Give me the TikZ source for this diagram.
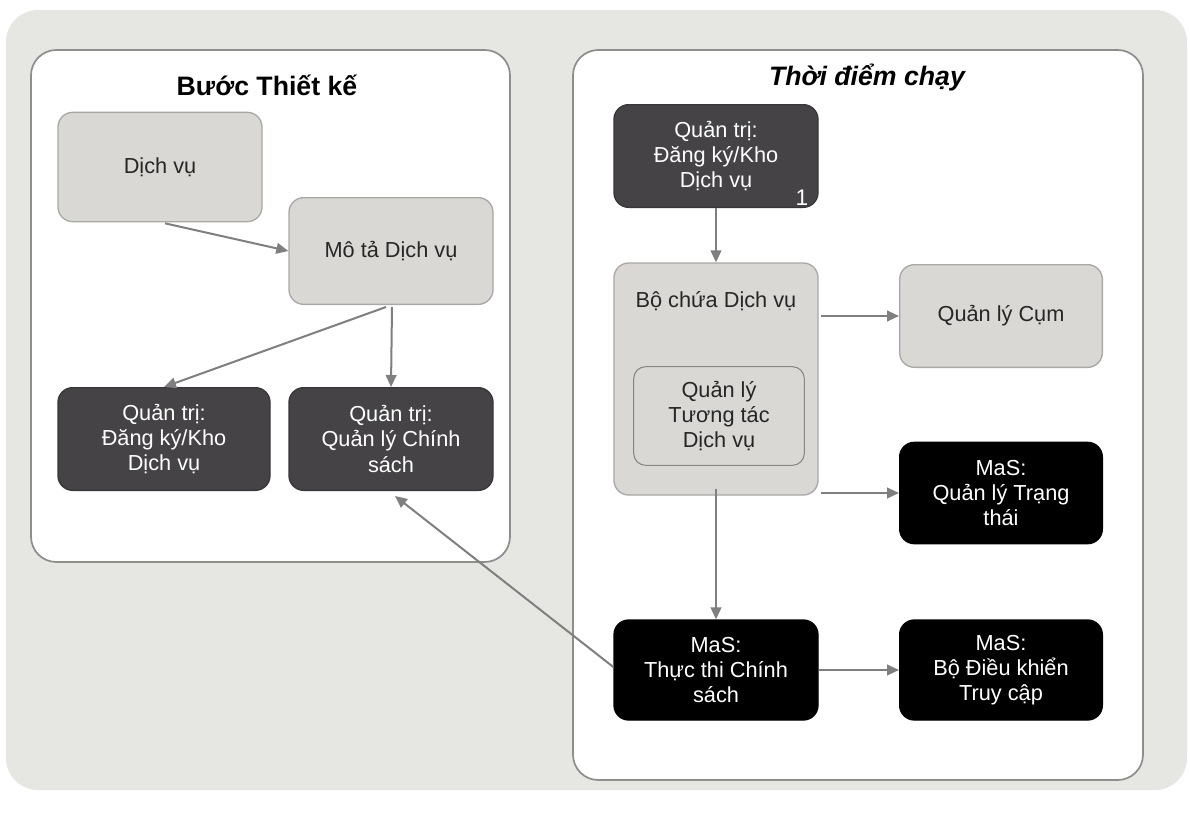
\documentclass[tikz,border=0pt]{standalone}
\usepackage{fontspec}
\setmainfont{Liberation Sans}
\usetikzlibrary{arrows.meta,calc}
\definecolor{bgpanel}{HTML}{E6E6E3}
\definecolor{panelline}{HTML}{8E8E8C}
\definecolor{lightbox}{HTML}{D9D8D5}
\definecolor{lightline}{HTML}{A9A8A6}
\definecolor{darkbox}{HTML}{454346}
\definecolor{arrowgray}{HTML}{7F7F7F}
\begin{document}
\begin{tikzpicture}[x=0.75pt,y=-0.75pt,
  panel/.style={draw=panelline,line width=1.3pt,fill=white,rounded corners=19pt},
  boxbase/.style={rectangle,rounded corners=11pt,align=center,inner sep=0pt,
    font=\fontsize{16.3}{18.8}\selectfont},
  lightnode/.style={boxbase,draw=lightline,line width=1pt,fill=lightbox,text=black!85},
  darknode/.style={boxbase,draw=darkbox!80!black,line width=1pt,fill=darkbox,text=white},
  blacknode/.style={boxbase,draw=black,line width=1pt,fill=black,text=white},
  innernode/.style={boxbase,draw=lightline!80!black,line width=0.8pt,fill=lightbox,rounded corners=9pt,text=black!85},
  titletext/.style={font=\fontsize{20}{23}\selectfont\bfseries},
  flow/.style={draw=arrowgray,line width=1.5pt,-{Triangle[length=9pt,width=8pt]}}
]
\useasboundingbox (0,0) rectangle (1190,814);
% outer backdrop
\fill[bgpanel,rounded corners=24pt] (6,10) rectangle (1187,790);

% the two phases
\draw[panel] (31,50) rectangle (510,562);
\draw[panel] (573,50) rectangle (1143,780);
\node[titletext] (design) at (267,85) {Bước Thiết kế};
\node[titletext,font=\fontsize{20}{23}\selectfont\bfseries\itshape] (runtime) at (867,78) {Thời điểm chạy};

% design-time components
\node[lightnode,minimum width=153pt,minimum height=82pt] (dv) at (160,167) {Dịch vụ};
\node[lightnode,minimum width=153pt,minimum height=80pt] (mota) at (391,251) {Mô tả Dịch vụ};
\node[darknode,minimum width=159pt,minimum height=77pt] (qt1) at (164,439) {Quản trị:\\Đăng ký/Kho\\Dịch vụ};
\node[darknode,minimum width=153pt,minimum height=77pt] (qt2) at (391,439) {Quản trị:\\Quản lý Chính\\sách};

% runtime components
\node[darknode,minimum width=153pt,minimum height=77pt] (qtR) at (716,156) {Quản trị:\\Đăng ký/Kho\\Dịch vụ};
\node[text=white,font=\fontsize{17}{18}\selectfont,inner sep=0pt] (num) at (802,198) {1};
\node[lightnode,minimum width=153pt,minimum height=174pt] (bochua) at (716,379) {};
\node[boxbase,text=black!85] (bochualabel) at (716,301) {Bộ chứa Dịch vụ};
\node[innernode,minimum width=128pt,minimum height=74pt] (qltt) at (719,416) {Quản lý\\Tương tác\\Dịch vụ};
\node[lightnode,minimum width=152pt,minimum height=77pt] (cum) at (1001,316) {Quản lý Cụm};
\node[blacknode,minimum width=152pt,minimum height=76pt] (trangthai) at (1001,493) {MaS:\\Quản lý Trạng\\thái};
\node[blacknode,minimum width=153pt,minimum height=75pt] (thucthi) at (716,670) {MaS:\\Thực thi Chính\\sách};
\node[blacknode,minimum width=152pt,minimum height=75pt] (dieukhien) at (1001,670) {MaS:\\Bộ Điều khiển\\Truy cập};

% connectors
\draw[flow] ($(dv.south)+(5,1)$) -- (mota.west);
\draw[flow] ($(mota.south)+(-5,2)$) -- (qt1.north);
\draw[flow] ($(mota.south)+(1,2)$) -- (qt2.north);
\draw[flow] (qtR.south) -- (bochua.north);
\draw[flow] ($(bochua.east)+(2,-63)$) -- (cum.west);
\draw[flow] ($(bochua.east)+(2,114)$) -- (trangthai.west);
\draw[flow] ($(bochua.south)+(0,-7)$) -- (thucthi.north);
\draw[flow] (thucthi.east) -- (dieukhien.west);
\draw[flow] ($(thucthi.west)+(0,-3)$) -- ($(qt2.south)+(4,5)$);
\end{tikzpicture}
\end{document}
